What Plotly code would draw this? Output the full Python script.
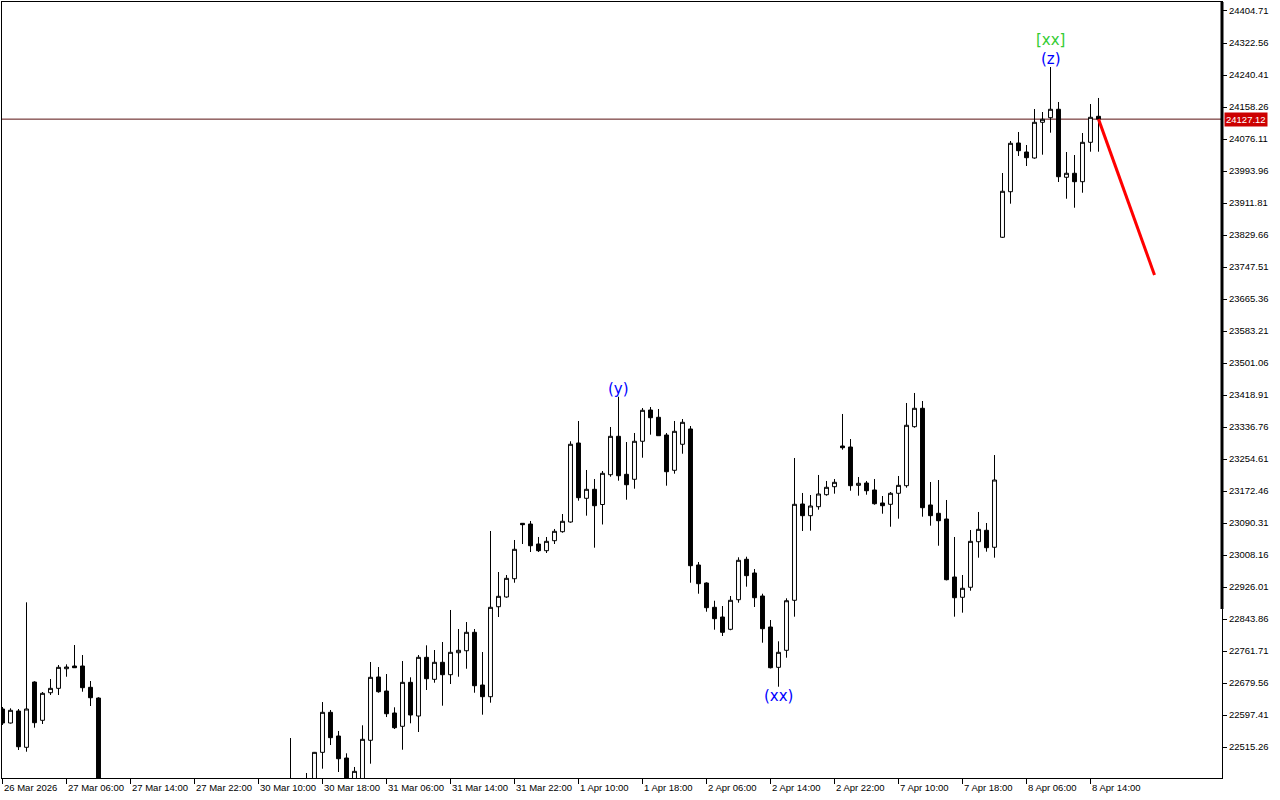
import plotly.graph_objects as go

# ---------------- data (H1 candles, index = bar number) ----------------
opens = [22612.8, 22576.9, 22607.7, 22514.5, 22682.1, 22583.8, 22654.6, 22665.9, 22716.2, 22723.2,
         22723.2, 22668.5, 22641.0, 22380.0, 22320.0, 22345.0, 22370.0, 22355.0, 22310.0, 22330.0,
         22360.0, 22350.0, 22300.0, 22260.0, 22290.0, 22285.0, 22240.0, 22255.0, 22280.0, 22320.0,
         22300.0, 22330.0, 22360.0, 22345.0, 22350.0, 22380.0, 22400.0, 22385.0, 22400.0, 22392.0,
         22501.6, 22604.3, 22543.5, 22487.0, 22420.0, 22430.0, 22532.5, 22695.0, 22659.0, 22602.6,
         22568.4, 22681.3, 22594.8, 22745.5, 22689.0, 22732.7, 22700.9, 22757.3, 22762.4, 22809.7,
         22674.4, 22644.4, 22875.4, 22900.4, 22947.3, 23089.5, 23087.7, 23036.4, 23019.2, 23044.9,
         23068.0, 23092.9, 23295.7, 23153.7, 23176.8, 23137.8, 23214.3, 23312.9, 23215.3, 23202.5,
         23300.1, 23380.4, 23361.7, 23316.2, 23225.6, 23292.4, 23331.7, 22982.5, 22936.3, 22873.9,
         22849.0, 22817.4, 22893.4, 22997.2, 22962.0, 22902.9, 22823.3, 22719.8, 22763.5, 22891.9,
         23139.1, 23109.1, 23132.2, 23163.0, 23183.5, 23288.0, 23285.4, 23187.0, 23193.0, 23175.1,
         23141.7, 23138.3, 23166.6, 23186.1, 23337.6, 23384.8, 23136.6, 23115.2, 23100.6, 22951.7,
         22899.6, 22925.3, 23042.3, 23071.6, 23028.0, 23823.8, 23940.8, 24065.8, 24042.7, 24027.3,
         24119.0, 24130.8, 24152.4, 23977.8, 23988.1, 23966.5, 24067.6, 24134.4]
highs = [22618.0, 22614.6, 22612.8, 22886.7, 22684.0, 22656.4, 22689.8, 22725.7, 22727.5, 22777.1,
         22751.4, 22684.7, 22643.0, 22410.0, 22360.0, 22390.0, 22400.0, 22380.0, 22340.0, 22370.0,
         22395.0, 22365.0, 22320.0, 22300.0, 22310.0, 22300.0, 22270.0, 22290.0, 22330.0, 22350.0,
         22340.0, 22380.0, 22400.0, 22370.0, 22390.0, 22415.0, 22538.3, 22420.0, 22448.5, 22502.5,
         22630.7, 22610.3, 22556.4, 22499.1, 22464.0, 22571.0, 22733.5, 22720.6, 22702.6, 22617.2,
         22736.0, 22694.2, 22751.4, 22776.3, 22764.3, 22784.8, 22867.0, 22818.2, 22836.1, 22818.2,
         22759.1, 23069.8, 22964.5, 22956.8, 23046.7, 23090.3, 23095.5, 23054.4, 23054.4, 23075.0,
         23113.4, 23300.1, 23352.2, 23226.4, 23203.3, 23223.8, 23336.8, 23414.5, 23298.2, 23321.4,
         23385.5, 23388.1, 23383.0, 23321.4, 23352.2, 23357.3, 23339.3, 22990.2, 22938.0, 22890.8,
         22877.2, 22902.9, 23002.3, 23003.8, 22972.2, 22908.8, 22841.3, 22786.6, 22897.0, 23257.2,
         23167.4, 23162.2, 23213.6, 23198.2, 23203.3, 23370.2, 23305.9, 23208.4, 23198.2, 23203.3,
         23159.6, 23169.9, 23211.0, 23398.4, 23424.1, 23403.5, 23195.6, 23200.7, 23149.4, 23054.4,
         22956.8, 23072.3, 23118.6, 23090.3, 23264.8, 23988.8, 24071.0, 24094.1, 24060.7, 24153.1,
         24145.4, 24260.9, 24171.1, 24042.7, 24035.0, 24091.5, 24165.9, 24181.4]
lows = [22571.8, 22575.6, 22507.6, 22503.2, 22564.8, 22574.3, 22648.8, 22648.8, 22695.7, 22718.8,
        22657.2, 22620.5, 22350.0, 22300.0, 22280.0, 22330.0, 22340.0, 22300.0, 22270.0, 22315.0,
        22340.0, 22290.0, 22240.0, 22235.0, 22270.0, 22220.0, 22200.0, 22240.0, 22270.0, 22290.0,
        22280.0, 22310.0, 22330.0, 22310.0, 22330.0, 22350.0, 22370.0, 22340.0, 22360.0, 22380.0,
        22459.6, 22520.4, 22451.1, 22400.0, 22405.0, 22425.0, 22472.4, 22654.6, 22592.2, 22561.5,
        22508.3, 22576.1, 22553.8, 22661.6, 22680.3, 22621.3, 22677.0, 22695.7, 22716.2, 22654.6,
        22598.2, 22629.0, 22849.0, 22898.5, 22937.0, 23036.4, 23015.9, 23015.9, 23013.3, 23036.4,
        23065.4, 23091.1, 23147.6, 23109.1, 23026.9, 23086.5, 23209.2, 23198.9, 23150.1, 23178.4,
        23257.9, 23317.0, 23314.4, 23186.1, 23216.9, 23268.2, 22937.0, 22908.8, 22862.6, 22816.4,
        22800.2, 22815.0, 22885.7, 22926.8, 22874.7, 22783.0, 22717.0, 22670.0, 22744.5, 22849.8,
        23069.8, 23070.6, 23124.5, 23160.4, 23165.6, 23278.5, 23173.2, 23160.4, 23163.0, 23137.3,
        23114.2, 23080.8, 23101.4, 23181.0, 23335.0, 23106.5, 23083.4, 23032.0, 22943.0, 22849.8,
        22860.1, 22916.5, 23001.3, 23016.7, 23001.3, 23822.0, 23910.0, 24032.5, 24006.8, 24025.5,
        24035.8, 24092.3, 23965.7, 23922.8, 23899.7, 23938.2, 24043.5, 24043.5]
closes = [22576.9, 22609.5, 22516.0, 22612.8, 22577.7, 22653.1, 22665.9, 22719.8, 22720.6, 22718.8,
          22667.5, 22641.8, 22380.0, 22320.0, 22345.0, 22370.0, 22355.0, 22310.0, 22330.0, 22360.0,
          22350.0, 22300.0, 22260.0, 22290.0, 22285.0, 22240.0, 22255.0, 22280.0, 22320.0, 22300.0,
          22330.0, 22360.0, 22345.0, 22350.0, 22380.0, 22395.0, 22385.0, 22400.0, 22392.0, 22501.6,
          22604.3, 22539.2, 22485.2, 22420.0, 22452.8, 22535.0, 22694.2, 22657.2, 22600.7, 22564.8,
          22681.3, 22597.4, 22745.5, 22690.6, 22732.7, 22700.9, 22758.4, 22763.5, 22809.7, 22672.6,
          22644.4, 22873.9, 22902.1, 22948.3, 23022.8, 23086.0, 23032.0, 23019.2, 23043.3, 23069.0,
          23094.7, 23292.4, 23155.3, 23176.8, 23134.7, 23217.9, 23312.9, 23211.7, 23188.6, 23300.1,
          23379.6, 23360.6, 23314.4, 23222.0, 23325.7, 23348.8, 22980.7, 22934.5, 22872.9, 22844.7,
          22809.7, 22891.9, 22994.6, 22955.1, 22898.5, 22819.0, 22718.8, 22758.4, 22890.8, 23138.3,
          23109.1, 23134.0, 23164.8, 23182.0, 23194.8, 23283.6, 23186.1, 23192.2, 23173.2, 23139.8,
          23134.7, 23166.6, 23187.0, 23341.2, 23384.8, 23129.6, 23109.1, 23096.2, 22944.8, 22898.5,
          22922.7, 23043.3, 23074.1, 23026.9, 23200.7, 23941.9, 24065.1, 24046.1, 24028.1, 24119.0,
          24126.7, 24152.4, 23979.3, 23988.1, 23966.5, 24067.6, 24131.8, 24127.12]
bar_index = list(range(len(opens)))

time_labels = ["26 Mar 2026", "27 Mar 06:00", "27 Mar 14:00", "27 Mar 22:00", "30 Mar 10:00",
               "30 Mar 18:00", "31 Mar 06:00", "31 Mar 14:00", "31 Mar 22:00", "1 Apr 10:00",
               "1 Apr 18:00", "2 Apr 06:00", "2 Apr 14:00", "2 Apr 22:00", "7 Apr 10:00",
               "7 Apr 18:00", "8 Apr 06:00", "8 Apr 14:00"]
time_label_bars = [0, 8, 16, 24, 32, 40, 48, 56, 64, 72, 80, 88, 96, 104, 112, 120, 128, 136]

price_ticks = [24404.71, 24322.56, 24240.41, 24158.26, 24076.11, 23993.96, 23911.81, 23829.66,
               23747.51, 23665.36, 23583.21, 23501.06, 23418.91, 23336.76, 23254.61, 23172.46,
               23090.31, 23008.16, 22926.01, 22843.86, 22761.71, 22679.56, 22597.41, 22515.26]

current_price = 24127.12
forecast_x = [137, 144]
forecast_y = [24127.12, 23727.0]

wave_labels = [  # text, bar, price anchor, colour, side
    ("(y)", 77, 23414.5, "#0000FF", "above"),
    ("(xx)", 97, 22670.0, "#0000FF", "below"),
    ("(z)", 131, 24260.9, "#0000FF", "above"),
    ("[xx]", 131, 24260.9, "#33CC33", "above2"),
]

# ---------------- figure ----------------
FONT = "Liberation Sans"
fig = go.Figure()

fig.add_trace(go.Candlestick(
    x=bar_index, open=opens, high=highs, low=lows, close=closes,
    increasing=dict(line=dict(color="black", width=1), fillcolor="white"),
    decreasing=dict(line=dict(color="black", width=1), fillcolor="black"),
    whiskerwidth=0, showlegend=False, hoverinfo="skip",
))

fig.add_trace(go.Scatter(
    x=forecast_x, y=forecast_y, mode="lines",
    line=dict(color="#FF0000", width=3), showlegend=False, hoverinfo="skip",
))

annotations = []
for lab, b in zip(time_labels, time_label_bars):
    annotations.append(dict(x=b, y=0, xref="x", yref="paper", text=lab, showarrow=False,
                            xanchor="left", yanchor="top", xshift=-1, yshift=-2,
                            font=dict(family=FONT, size=9.5, color="black")))

for text, b, price, col, side in wave_labels:
    if side == "above":
        ya, ys = "bottom", -3
    elif side == "above2":
        ya, ys = "bottom", 16
    else:
        ya, ys = "top", 2
    annotations.append(dict(x=b, y=price, xref="x", yref="y", text=text, showarrow=False,
                            xanchor="center", yanchor=ya, yshift=ys,
                            font=dict(family="DejaVu Sans", size=15, color=col)))

annotations.append(dict(x=1, y=current_price, xref="paper", yref="y",
                        text=f"{current_price:.2f}", showarrow=False,
                        xanchor="left", yanchor="middle", xshift=2,
                        bgcolor="#CC0000", borderpad=1,
                        font=dict(family=FONT, size=9.5, color="white")))

shapes = [
    dict(type="line", xref="paper", yref="y", x0=0, x1=1, y0=current_price, y1=current_price,
         line=dict(color="#5A1010", width=1), layer="below"),
    dict(type="line", xref="paper", yref="paper", x0=1, x1=1, y0=0.2178, y1=1,
         line=dict(color="black", width=3)),
]

fig.update_layout(
    width=1280, height=800,
    margin=dict(l=2, r=58, t=2, b=22, pad=0),
    paper_bgcolor="white", plot_bgcolor="white",
    annotations=annotations, shapes=shapes,
    showlegend=False,
    font=dict(family=FONT, size=9.5, color="black"),
)
fig.update_xaxes(
    range=[-0.0625, 152.4375], rangeslider=dict(visible=False),
    showgrid=False, zeroline=False, showline=True, linecolor="black", linewidth=1, mirror=True,
    tickmode="array", tickvals=time_label_bars, ticktext=["" for _ in time_label_bars],
    ticks="outside", ticklen=5, tickcolor="black", tickwidth=1, showticklabels=False,
    automargin=False,
)
fig.update_yaxes(
    range=[22435.7, 24427.8], side="right",
    showgrid=False, zeroline=False, showline=True, linecolor="black", linewidth=1, mirror=True,
    tickmode="array", tickvals=price_ticks, ticktext=[f"{v:.2f}" for v in price_ticks],
    ticks="outside", ticklen=4, tickcolor="black", tickwidth=1,
    tickfont=dict(family=FONT, size=9.5, color="black"),
    automargin=False,
)

fig.write_html("out.html", config={"displayModeBar": False},
               post_script="document.body.style.margin='0';document.body.style.overflow='hidden';")
